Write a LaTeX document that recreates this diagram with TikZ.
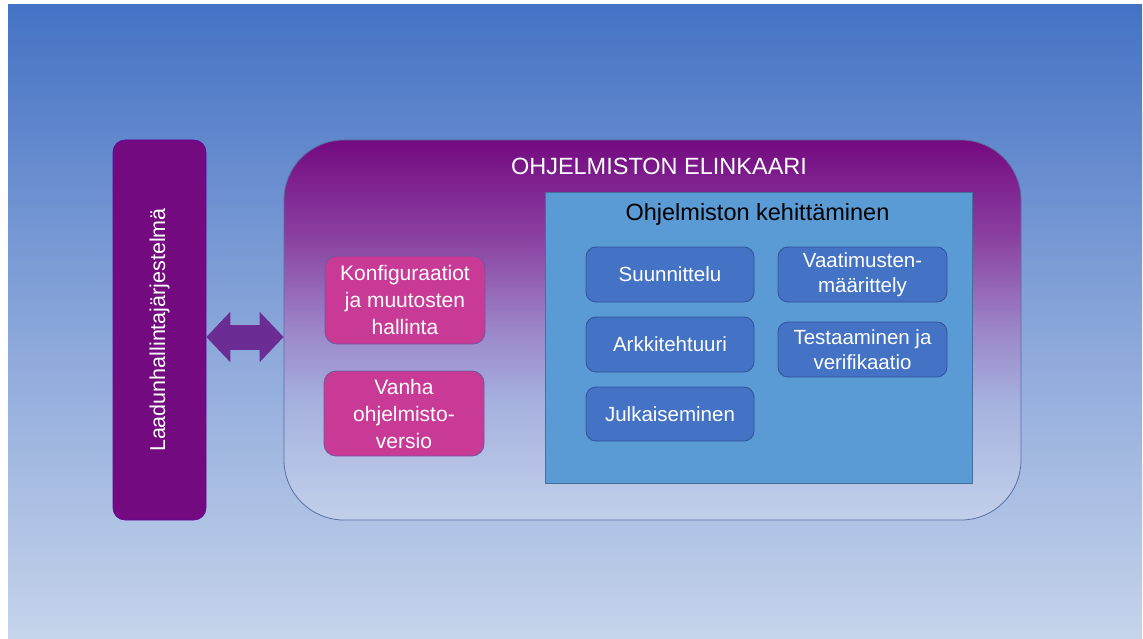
\documentclass[tikz,border=0pt]{standalone}
\usepackage{fontspec}
\setmainfont{Liberation Sans}
\usetikzlibrary{arrows.meta}

% palette
\definecolor{bgtop}{HTML}{4472C4}
\definecolor{bgmid}{HTML}{88A5D9}
\definecolor{bgbot}{HTML}{C6D4EB}
\definecolor{plum}{HTML}{740A80}
\definecolor{lf0}{HTML}{C3D0EA}
\definecolor{lf1}{HTML}{A5B0DE}
\definecolor{lf2}{HTML}{9C86C8}
\definecolor{lf3}{HTML}{8A3FA0}
\definecolor{lfedge}{HTML}{5A6EA6}
\definecolor{pinkfill}{HTML}{C83A96}
\definecolor{pinkedge}{HTML}{6A5AA0}
\definecolor{devfill}{HTML}{5B9BD5}
\definecolor{devedge}{HTML}{41719C}
\definecolor{stepfill}{HTML}{4472C4}
\definecolor{stepedge}{HTML}{2F5597}
\definecolor{arrowfill}{HTML}{6B2D94}

% vertical shadings (25bp = bottom edge, 75bp = top edge of the shaded path)
\pgfdeclareverticalshading{bgshade}{100bp}{color(0bp)=(bgbot); color(25bp)=(bgbot); color(50bp)=(bgmid); color(75bp)=(bgtop); color(100bp)=(bgtop)}
\pgfdeclareverticalshading{lifeshade}{100bp}{color(0bp)=(lf0); color(25bp)=(lf0); color(40.8bp)=(lf1); color(50bp)=(lf2); color(62.5bp)=(lf3); color(75bp)=(plum); color(100bp)=(plum)}

\tikzset{
  qmsbar/.style={rectangle, rounded corners=12pt, fill=plum, draw=plum!80!blue, line width=0.6pt,
    text=white, font=\fontsize{21.5}{26}\selectfont, inner sep=0pt},
  lifebox/.style={rectangle, rounded corners=60pt, shading=lifeshade, draw=lfedge, line width=0.8pt, inner sep=0pt},
  pinkbox/.style={rectangle, rounded corners=12pt, fill=pinkfill, draw=pinkedge, line width=0.8pt,
    text=white, align=center, font=\fontsize{21}{27}\selectfont, inner sep=0pt,
    minimum width=160pt},
  devbox/.style={rectangle, fill=devfill, draw=devedge, line width=0.8pt, inner sep=0pt},
  stepbox/.style={rectangle, rounded corners=10pt, fill=stepfill, draw=stepedge, line width=0.8pt,
    text=white, align=center, font=\fontsize{20.5}{25}\selectfont, inner sep=0pt,
    minimum width=168pt, minimum height=55pt},
  linkarrow/.style={line width=25pt, arrowfill,
    {Triangle[length=24pt,width=49pt]}-{Triangle[length=24pt,width=49pt]}}
}

\begin{document}
\begin{tikzpicture}[x=1pt, y=-1pt]
  \useasboundingbox (0,0) rectangle (1143,639);
  % page background
  \shade[shading=bgshade] (8,5) rectangle (1142,639);

  % quality management system bar
  \node[qmsbar, rotate=90, minimum width=380pt, minimum height=93pt] (qms) at (159.5,330)
    {Laadunhallintajärjestelmä};

  % software life cycle
  \node[lifebox, minimum width=737pt, minimum height=380pt] (life) at (652.5,330) {};
  \node[text=white, font=\fontsize{23.5}{28}\selectfont] (lifetitle) at (659,166) {OHJELMISTON ELINKAARI};

  % two-way link between the bar and the life cycle
  \coordinate (linkL) at (qms.south |- 0,337);
  \coordinate (linkR) at (life.west |- 0,337);
  \draw[linkarrow] (linkL) -- (linkR);

  \node[pinkbox, minimum height=88pt] (config) at (405,300)
    {Konfiguraatiot\\ja muutosten\\hallinta};
  \node[pinkbox, minimum height=85pt] (legacy) at (404,413.5)
    {Vanha\\ohjelmisto-\\versio};

  % software development
  \node[devbox, minimum width=427pt, minimum height=291pt] (dev) at (758.5,337.5) {};
  \node[text=black, font=\fontsize{23.5}{28}\selectfont] (devtitle) at (757.5,214) {Ohjelmiston kehittäminen};

  \node[stepbox] (design) at (670,274.5) {Suunnittelu};
  \node[stepbox, minimum width=169pt] (reqs) at (862.5,274.5) {Vaatimusten-\\määrittely};
  \node[stepbox] (arch) at (670,344.5) {Arkkitehtuuri};
  \node[stepbox, minimum width=169pt] (test) at (862.5,349.5) {Testaaminen ja\\verifikaatio};
  \node[stepbox, minimum height=54pt] (release) at (670,414) {Julkaiseminen};
\end{tikzpicture}
\end{document}
